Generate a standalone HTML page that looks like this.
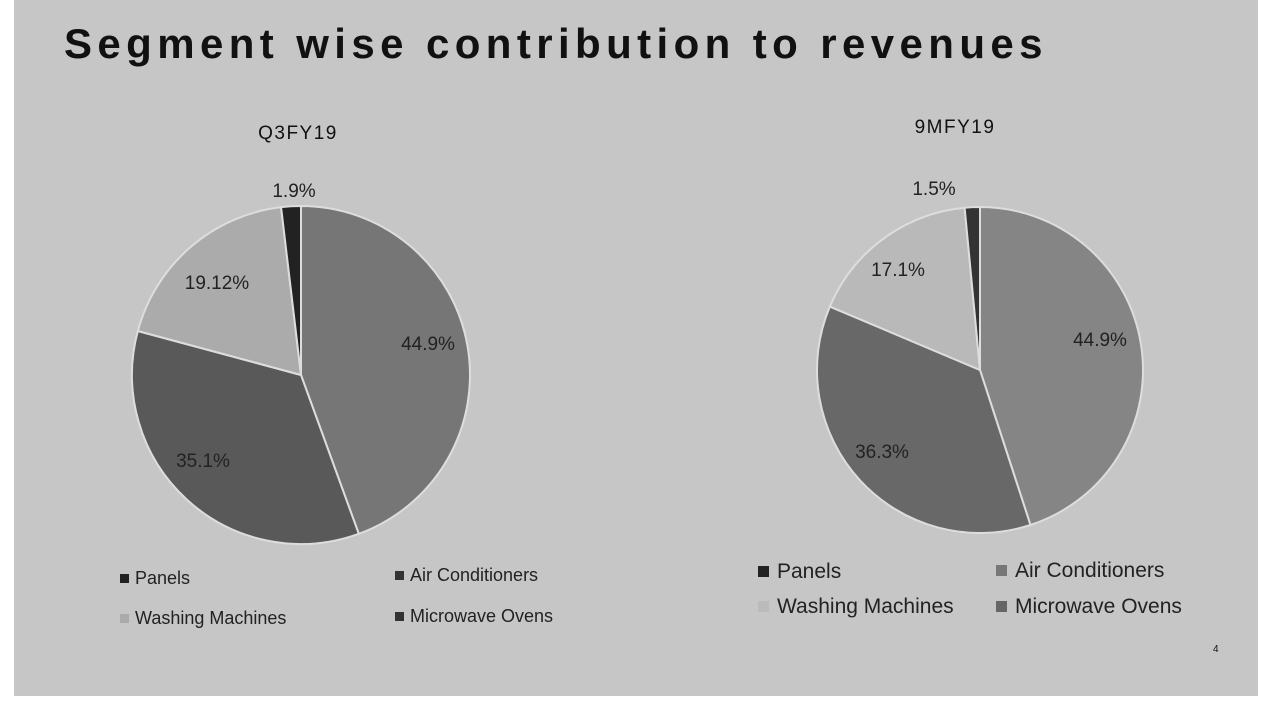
<!DOCTYPE html>
<html><head><meta charset="utf-8"><style>
body{margin:0;width:1280px;height:720px;background:#fff;overflow:hidden;font-family:"Liberation Sans",sans-serif}
#slide{position:absolute;left:14px;top:0;width:1244px;height:696px;background:#c6c6c6}
svg{position:absolute;left:0;top:0}
</style></head><body>
<div id="slide"></div>
<svg width="1280" height="720" id="chart">
<text x="64" y="58" font-size="42" font-weight="bold" fill="#111" letter-spacing="5.4">Segment wise contribution to revenues</text>
<text x="298" y="139" font-size="19" text-anchor="middle" fill="#111" letter-spacing="1.5">Q3FY19</text>
<text x="955" y="133" font-size="19" text-anchor="middle" fill="#111" letter-spacing="1.5">9MFY19</text>
<text x="1213" y="652" font-size="10" fill="#111">4</text>
</svg>
<script>
const segments=["Air Conditioners","Microwave Ovens","Washing Machines","Panels"];
const q3Values=[44.9,35.1,19.12,1.9];
const q3Labels=["44.9%","35.1%","19.12%","1.9%"];
const nmValues=[44.9,36.3,17.1,1.5];
const nmLabels=["44.9%","36.3%","17.1%","1.5%"];
const q3Colors=["#767676","#595959","#ababab","#222"];
const nmColors=["#858585","#686868","#b9b9b9","#333"];
const svg=document.getElementById('chart');
const NS="http://www.w3.org/2000/svg";
function pie(vals,labels,colors,cx,cy,r,name,labelPos){
  const total=vals.reduce((a,b)=>a+b,0);
  let a0=0;
  vals.forEach((v,i)=>{
    const a1=a0+v/total*2*Math.PI;
    const x0=cx+r*Math.sin(a0),y0=cy-r*Math.cos(a0),x1=cx+r*Math.sin(a1),y1=cy-r*Math.cos(a1);
    const p=document.createElementNS(NS,'path');
    p.setAttribute('d',`M${cx},${cy}L${x0},${y0}A${r},${r} 0 ${a1-a0>Math.PI?1:0} 1 ${x1},${y1}Z`);
    p.setAttribute('fill',colors[i]);p.setAttribute('stroke','#ddd');p.setAttribute('stroke-width','2');
    
    
    svg.appendChild(p);
    const t=document.createElementNS(NS,'text');
    t.setAttribute('x',labelPos[i][0]);t.setAttribute('y',labelPos[i][1]);
    t.setAttribute('font-size','19');t.setAttribute('fill','#222');t.setAttribute('text-anchor','middle');
    t.textContent=labels[i];
    
    
    svg.appendChild(t);
    a0=a1;
  });
}
pie(q3Values,q3Labels,q3Colors,301,375,169,'q3',[[428,350],[203,467],[217,289],[294,197]]);
pie(nmValues,nmLabels,nmColors,980,370,163,'9m',[[1100,346],[882,458],[898,276],[934,195]]);
const legends=[
 [120,584,"Panels","#222"],[395,581,"Air Conditioners","#333"],[120,624,"Washing Machines","#aaa"],[395,622,"Microwave Ovens","#333"],
 [758,578,"Panels","#222"],[996,577,"Air Conditioners","#777"],[758,613,"Washing Machines","#bbb"],[996,613,"Microwave Ovens","#666"]];
legends.forEach((l,i)=>{
  const big=i>=4;
  const r=document.createElementNS(NS,'rect');
  r.setAttribute('x',l[0]);r.setAttribute('y',l[1]-(big?12:10));r.setAttribute('width',big?11:9);r.setAttribute('height',big?11:9);r.setAttribute('fill',l[3]);
  
  
  svg.appendChild(r);
  const t=document.createElementNS(NS,'text');
  t.setAttribute('x',l[0]+(big?19:15));t.setAttribute('y',l[1]);t.setAttribute('font-size',big?21:18);t.setAttribute('fill','#222');
  t.textContent=l[2];
  
  
  svg.appendChild(t);
});
</script>
</body></html>
